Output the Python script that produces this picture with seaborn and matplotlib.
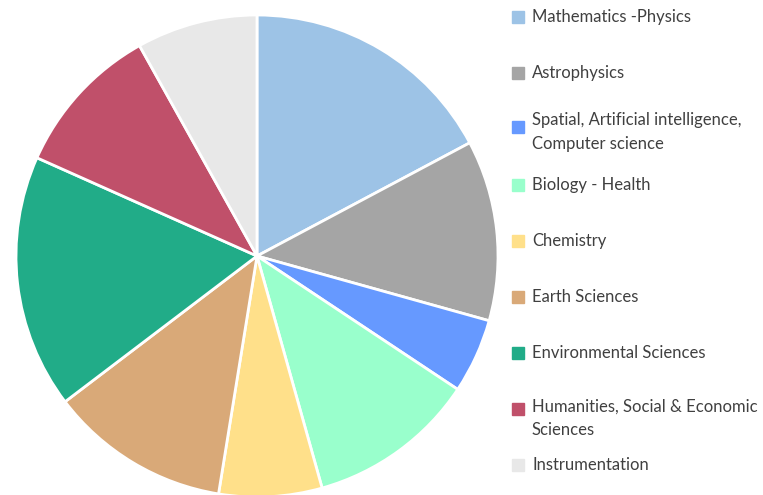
import matplotlib
matplotlib.use("Agg")
import matplotlib.pyplot as plt
import seaborn as sns

sns.set_theme(style="white")
plt.rcParams['font.family'] = ['Lato', 'DejaVu Sans']

categories = [
    "Mathematics -Physics",
    "Astrophysics",
    "Spatial, Artificial intelligence,\nComputer science",
    "Biology - Health",
    "Chemistry",
    "Earth Sciences",
    "Environmental Sciences",
    "Humanities, Social & Economic\nSciences",
    "Instrumentation",
]
values = [17.2, 12.1, 5.0, 11.3, 6.9, 12.1, 17.0, 10.2, 8.1]
colors = ["#9DC3E6", "#A5A5A5", "#6699FF", "#99FFCC", "#FFE08A",
          "#D9A978", "#21AC88", "#C0506A", "#E8E8E8"]

W, H = 763, 495
fig = plt.figure(figsize=(W / 100, H / 100), dpi=100)
cx, cy, r = 257, 256, 241
ax = fig.add_axes([(cx - r) / W, (H - cy - r) / H, 2 * r / W, 2 * r / H])
ax.pie(values, colors=colors, startangle=90, counterclock=False,
       wedgeprops=dict(edgecolor="white", linewidth=2), radius=1)
ax.set_xlim(-1, 1)
ax.set_ylim(-1, 1)
ax.set_aspect("equal")
ax.axis("off")

# legend (manual, uneven layout as in reference)
y0, step = 17, 56
for i, (lab, col) in enumerate(zip(categories, colors)):
    y = y0 + step * i
    if "\n" in lab and lab.startswith("Spatial"):
        my = y - 2
        ty, va = y + 3, "center"
    elif "\n" in lab:
        my = y
        ty, va = y - 10, "top"
    else:
        my = y
        ty, va = y, "center"
    fig.patches.append(plt.Rectangle((512 / W, 1 - (my + 6) / H), 12 / W, 12 / H,
                                     transform=fig.transFigure, color=col, figure=fig))
    fig.text(532 / W, 1 - ty / H, lab, va=va, ha="left", fontsize=12,
             color="#404040", linespacing=1.55)

fig.savefig("out.png", dpi=100)
